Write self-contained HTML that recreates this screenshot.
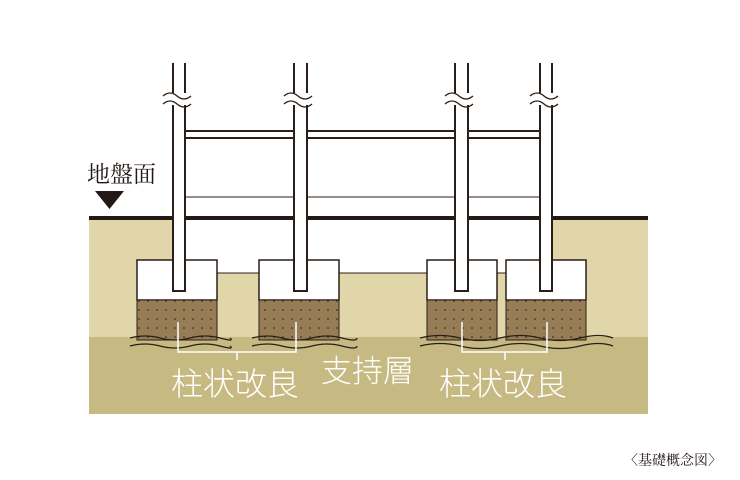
<!DOCTYPE html>
<html><head><meta charset="utf-8"><style>
html,body{margin:0;padding:0;background:#fff;}
svg{display:block;}
</style></head><body>
<svg width="740" height="480" viewBox="0 0 740 480" xmlns="http://www.w3.org/2000/svg">
<defs>
<pattern id="dots" x="0" y="0" width="9" height="9" patternUnits="userSpaceOnUse">
<rect width="9" height="9" fill="#977d56"/>
<circle cx="4" cy="4" r="0.8" fill="#2a1f18"/>
</pattern>
</defs>
<!-- ground -->
<rect x="89" y="218" width="559" height="120" fill="#e0d6aa"/>
<rect x="89" y="337" width="559" height="77" fill="#c6b982"/>
<!-- excavation white -->
<rect x="172" y="219" width="381" height="42" fill="#ffffff"/>
<rect x="216" y="259" width="44" height="14" fill="#ffffff"/>
<rect x="338" y="259" width="90" height="14" fill="#ffffff"/>
<rect x="496" y="259" width="11" height="14" fill="#ffffff"/>
<path d="M217 273 H259 M339 273 H427 M497 273 H506" stroke="#2a1f18" stroke-width="1"/>
<!-- footings -->
<g stroke="#2a1f18" stroke-width="1.5">
<rect x="137" y="260" width="80" height="40" fill="#fff"/>
<rect x="259" y="260" width="80" height="40" fill="#fff"/>
<rect x="427" y="260" width="70" height="40" fill="#fff"/>
<rect x="506" y="260" width="80" height="40" fill="#fff"/>
</g>
<g fill="url(#dots)" stroke="#2a1f18" stroke-width="1">
<rect x="137" y="300" width="80" height="40"/>
<rect x="259" y="300" width="80" height="40"/>
<rect x="427" y="300" width="70" height="40"/>
<rect x="506" y="300" width="80" height="40"/>
</g>
<!-- wavy lines -->
<g stroke="#2a1f18" stroke-width="1.3" fill="none">
<path d="M130 338 q15 -4 30 0 t30 0 t30 0 t10 0"/>
<path d="M130 346 q15 -4 30 0 t30 0 t30 0 t10 0"/>
<path d="M252 338 q15 -4 30 0 t30 0 t30 0 t15 0"/>
<path d="M252 346 q15 -4 30 0 t30 0 t30 0 t15 0"/>
<path d="M420 338 q20 -5 40 0 t40 0 t40 0 t40 0 t33 0"/>
<path d="M420 346 q20 -5 40 0 t40 0 t40 0 t40 0 t33 0"/>
</g>
<!-- brackets -->
<g stroke="#fff" stroke-width="1.5" fill="none">
<path d="M178 322 V352 H296 V322 M237 352 V360"/>
<path d="M462 322 V352 H547 V322 M505 352 V360"/>
</g>
<!-- columns -->
<g fill="#fff" stroke="#2a1f18" stroke-width="2">
<path d="M173 63 V291 H185 V63"/>
<path d="M294 63 V291 H307 V63"/>
<path d="M455 63 V291 H468 V63"/>
<path d="M540 63 V291 H552 V63"/>
</g>
<!-- beams -->
<g stroke="#2a1f18" fill="none">
<path d="M186 131 H293 M308 131 H454 M469 131 H539" stroke-width="2"/>
<path d="M186 138 H293 M308 138 H454 M469 138 H539" stroke-width="2"/>
<path d="M186 197 H293 M308 197 H454 M469 197 H539" stroke-width="1"/>
</g>
<!-- ground line -->
<g stroke="#231815" stroke-width="4">
<path d="M89 218 H172 M186 218 H293 M308 218 H454 M469 218 H539 M553 218 H648"/>
</g>
<!-- breaks -->
<g fill="#fff">
<rect x="170" y="93" width="18" height="12"/>
<rect x="291" y="93" width="18" height="12"/>
<rect x="452" y="93" width="18" height="12"/>
<rect x="537" y="93" width="18" height="12"/>
</g>
<g stroke="#2a1f18" stroke-width="1.3" fill="none">
<path d="M163 96 q7 -6 14 0 t14 0"/><path d="M163 104 q7 -6 14 0 t14 0"/>
<path d="M284 96 q7 -6 14 0 t14 0"/><path d="M284 104 q7 -6 14 0 t14 0"/>
<path d="M445 96 q7 -6 14 0 t14 0"/><path d="M445 104 q7 -6 14 0 t14 0"/>
<path d="M530 96 q7 -6 14 0 t14 0"/><path d="M530 104 q7 -6 14 0 t14 0"/>
</g>
<!-- marker -->
<polygon points="95,191 124,191 109.5,209" fill="#231815"/>
<g font-family="'Liberation Serif','Noto Serif CJK SC',serif">
<text x="87" y="182" font-size="23" fill="#231815">地盤面</text>
<text x="624" y="465" font-size="14" fill="#231815">〈基礎概念図〉</text>
</g>
<g font-family="'Liberation Sans','Noto Sans CJK JP',sans-serif" fill="#fff" font-weight="300">
<text x="171" y="395" font-size="32">柱状改良</text>
<text x="321" y="382" font-size="31">支持層</text>
<text x="439" y="395" font-size="32">柱状改良</text>
</g>
</svg>
</body></html>
